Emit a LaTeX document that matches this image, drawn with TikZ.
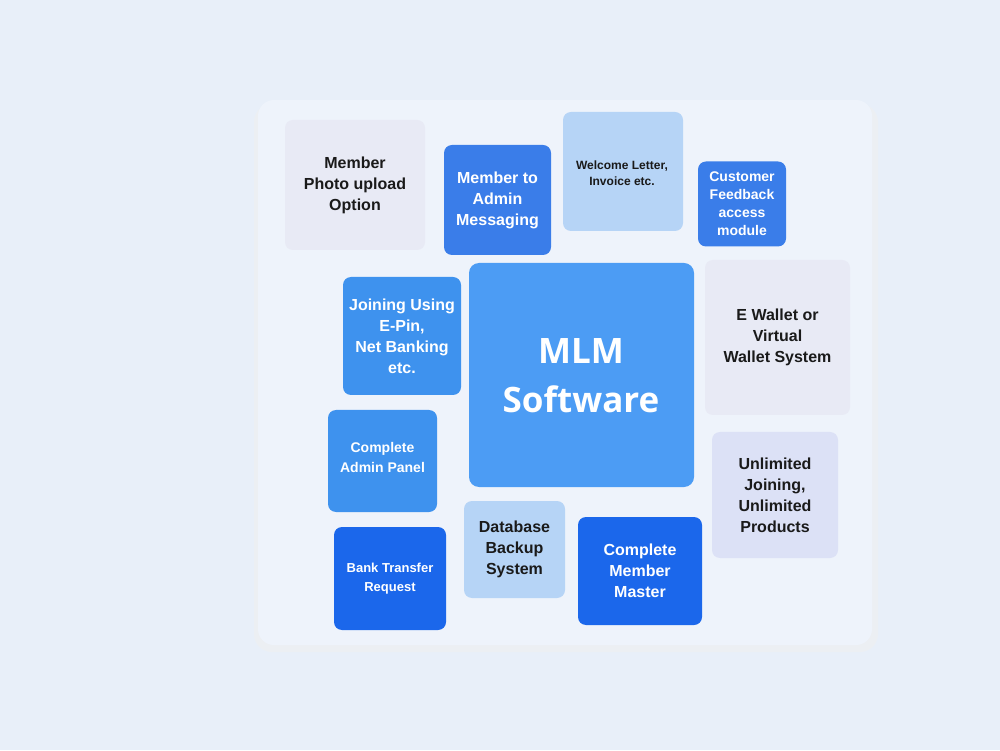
\documentclass[tikz,border=0pt]{standalone}
\usepackage{fontspec}
\setmainfont{Liberation Sans}
\newfontfamily\titlefont{Open Sans}
\usepackage{xcolor}
\usetikzlibrary{positioning,shadows}

\definecolor{pagebg}{HTML}{E8EFF9}
\definecolor{panelbg}{HTML}{EEF3FB}
\definecolor{faintbg}{HTML}{E8EAF5}
\definecolor{lavender}{HTML}{DCE1F6}
\definecolor{paleblue}{HTML}{B6D4F6}
\definecolor{midblue}{HTML}{4C9CF4}
\definecolor{skyblue}{HTML}{3E92EE}
\definecolor{royal}{HTML}{3A7DE9}
\definecolor{deepblue}{HTML}{1B67EB}
\definecolor{ink}{HTML}{1A1A1A}

\begin{document}
\begin{tikzpicture}[
    x=1pt, y=1pt,
    box/.style={rectangle, rounded corners=8pt, inner sep=0pt, align=center, fill=#1,
        text=white, font=\bfseries\fontsize{16}{21}\selectfont},
    box/.default=skyblue,
    pale/.style={box=#1, text=ink},
    pale/.default=paleblue,
]
% page and panel (y measured upward, origin at bottom left)
\fill[pagebg] (0,0) rectangle (1000,750);
\fill[black!6, opacity=0.6, rounded corners=18pt] (254,98) rectangle (878,646);
\fill[panelbg, rounded corners=16pt] (258,105) rectangle (872,650);
% top row
\node[pale=faintbg, minimum width=140pt, minimum height=130pt] (photo) at (355,565) {Member\\Photo upload\\Option};
\node[box=royal, minimum width=107pt, minimum height=110pt] (msg) at (497.5,550) {Member to\\Admin\\Messaging};
\node[pale, minimum width=120pt, minimum height=119pt] (welcome) at (623,578.5) {};
\node[text=ink, font=\bfseries\fontsize{12}{16}\selectfont, align=center] (welcometxt) at (622,577) {Welcome Letter,\\Invoice etc.};
\node[box=royal, minimum width=88pt, minimum height=85pt, font=\bfseries\fontsize{14}{18}\selectfont] (feedback) at (742,546) {Customer\\Feedback\\access\\module};
% middle
\node[box=midblue, minimum width=225pt, minimum height=224pt, rounded corners=10pt] (mlm) at (581.5,375) {};
\node[text=white, font=\titlefont\bfseries\fontsize{35}{49}\selectfont, align=center] (mlmtxt) at (581,374) {MLM\\Software};
\node[box, minimum width=118pt, minimum height=118pt] (joining) at (402,414) {Joining Using\\E-Pin,\\Net Banking\\etc.};
\node[pale=faintbg, minimum width=145pt, minimum height=155pt] (wallet) at (777.5,412.5) {E Wallet or\\Virtual\\Wallet System};
\node[box, minimum width=109pt, minimum height=102pt] (admin) at (382.5,289) {};
\node[text=white, font=\bfseries\fontsize{14}{20}\selectfont, align=center] (admintxt) at (382.5,293) {Complete\\Admin Panel};
\node[pale=lavender, minimum width=126pt, minimum height=126pt] (unlimited) at (775,255) {Unlimited\\Joining,\\Unlimited\\Products};
% bottom row
\node[box=deepblue, minimum width=112pt, minimum height=103pt, font=\bfseries\fontsize{13}{19}\selectfont] (bank) at (390,171.5) {Bank Transfer\\Request};
\node[pale, minimum width=101pt, minimum height=97pt] (backup) at (514.5,200.5) {Database\\Backup\\System};
\node[box=deepblue, minimum width=124pt, minimum height=108pt] (master) at (640,179) {Complete\\Member\\Master};
\end{tikzpicture}
\end{document}
